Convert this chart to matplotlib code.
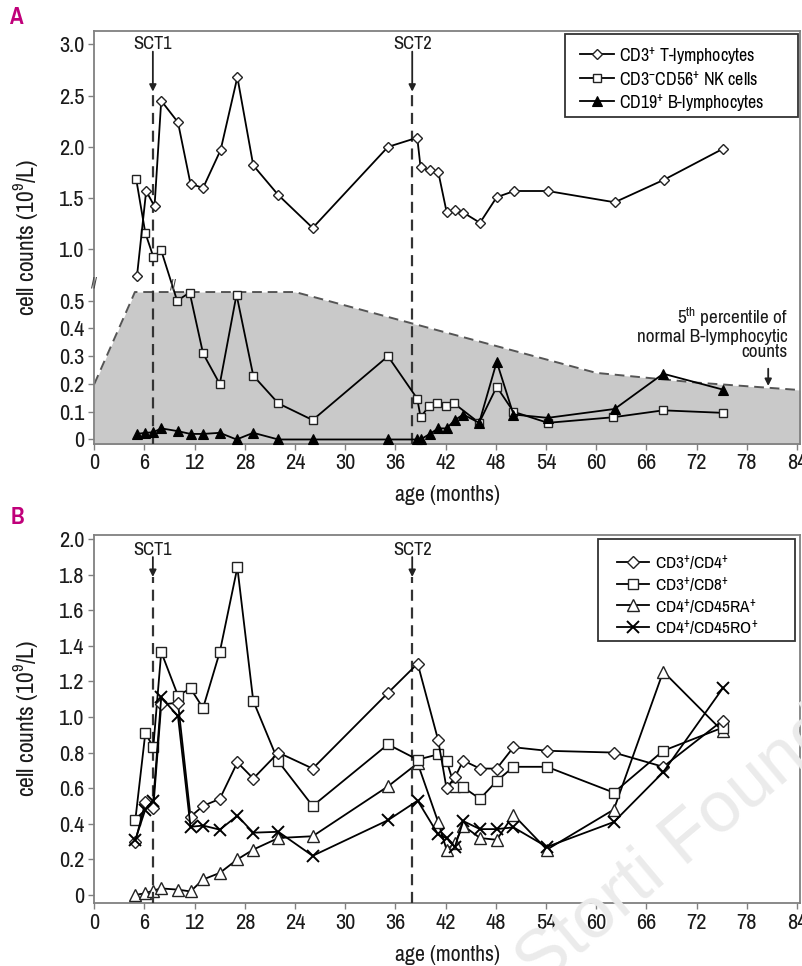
import numpy as np
import matplotlib
matplotlib.use("Agg")
import matplotlib.pyplot as plt
from matplotlib import transforms
from matplotlib.patches import Rectangle

FONT = 'Pragati Narrow'
plt.rcParams['font.family'] = [FONT, 'Archivo Narrow', 'Liberation Sans', 'DejaVu Sans']
plt.rcParams['mathtext.fontset'] = 'custom'
plt.rcParams['mathtext.rm'] = FONT
plt.rcParams['mathtext.it'] = FONT + ':italic'
plt.rcParams['mathtext.bf'] = FONT + ':bold'
plt.rcParams['mathtext.default'] = 'regular'
plt.rcParams['mathtext.fallback'] = 'stixsans'

# ---------------- data: panel A ----------------
months_t = [5.1, 6.2, 7.2, 8.0, 10.0, 11.5, 13.0, 15.1, 17.1, 19.0, 22.0, 26.1, 35.1,
            38.6, 39.0, 40.1, 41.1, 42.1, 43.1, 44.1, 46.1, 48.1, 50.2, 54.2, 62.2, 68.1, 75.1]
cd3_t = [0.74, 1.57, 1.42, 2.45, 2.24, 1.64, 1.60, 1.97, 2.68, 1.82, 1.53, 1.21, 2.00,
         2.09, 1.80, 1.77, 1.76, 1.37, 1.38, 1.36, 1.26, 1.51, 1.57, 1.57, 1.46, 1.68, 1.98]

months_nk = [5.0, 6.1, 7.05, 8.0, 9.9, 11.4, 13.0, 15.0, 17.0, 19.0, 22.0, 26.1, 35.1,
             38.6, 39.0, 40.0, 41.0, 42.0, 43.0, 46.0, 48.1, 50.1, 54.2, 62.0, 68.0, 75.1]
nk_cells = [1.69, 1.16, 0.93, 0.99, 0.50, 0.58, 0.31, 0.20, 0.56, 0.23, 0.13, 0.07, 0.30,
            0.147, 0.08, 0.12, 0.13, 0.12, 0.13, 0.06, 0.19, 0.10, 0.06, 0.08, 0.105, 0.096]

months_b = [5.1, 6.1, 7.05, 8.0, 10.0, 11.5, 13.0, 15.0, 17.0, 19.0, 22.0, 26.1, 35.1,
            38.6, 39.0, 40.1, 41.1, 42.1, 43.1, 44.1, 46.0, 48.1, 50.1, 54.2, 62.2, 68.0, 75.1]
cd19_b = [0.02, 0.024, 0.026, 0.04, 0.03, 0.02, 0.02, 0.024, 0.0, 0.024, 0.0, 0.0, 0.0,
          0.0, 0.0, 0.02, 0.04, 0.04, 0.07, 0.09, 0.06, 0.28, 0.09, 0.078, 0.11, 0.237, 0.18]

pct_months = [0, 4.4, 4.85, 24, 27.9, 60, 72, 84.4]
pct_values = [0.20, 0.50, 0.585, 0.585, 0.50, 0.24, 0.205, 0.178]

# ---------------- data: panel B ----------------
months_sub = [4.9, 6.1, 7.05, 8.0, 10.0, 11.5, 13.0, 15.0, 17.1, 19.0, 22.0, 26.1, 35.1,
              38.65, 41.1, 42.1, 43.1, 44.1, 46.1, 48.1, 50.1, 54.1, 62.1, 68.0, 75.1]
cd4 = [0.30, 0.52, 0.49, 1.07, 1.08, 0.44, 0.50, 0.54, 0.745, 0.654, 0.80, 0.71, 1.135,
       1.30, 0.87, 0.60, 0.66, 0.755, 0.71, 0.71, 0.83, 0.81, 0.80, 0.72, 0.98]
cd8 = [0.42, 0.91, 0.83, 1.365, 1.12, 1.16, 1.05, 1.365, 1.84, 1.09, 0.75, 0.50, 0.846,
       0.76, 0.79, 0.755, 0.605, 0.605, 0.54, 0.64, 0.72, 0.72, 0.575, 0.81, 0.94]
cd45ra = [0.0, 0.01, 0.025, 0.037, 0.03, 0.02, 0.087, 0.124, 0.20, 0.255, 0.32, 0.33, 0.61,
          0.74, 0.41, 0.255, 0.29, 0.39, 0.32, 0.31, 0.45, 0.255, 0.48, 1.255, 0.92]
cd45ro = [0.31, 0.48, 0.53, 1.11, 1.005, 0.383, 0.39, 0.367, 0.445, 0.35, 0.355, 0.22, 0.42,
          0.53, 0.34, 0.32, 0.27, 0.415, 0.37, 0.37, 0.38, 0.27, 0.41, 0.69, 1.16]

sct_months = [7, 38]
sct_labels = ['SCT1', 'SCT2']

x_ticks = list(range(0, 85, 6))
x_ticklabels = ['0', '6', '12', '28', '24', '30', '36', '42', '48', '54', '60', '66', '72', '78', '84']
yA_ticks = [0, 0.1, 0.2, 0.3, 0.4, 0.5, 1.0, 1.5, 2.0, 2.5, 3.0]
yA_ticklabels = ['0', '0.1', '0.2', '0.3', '0.4', '0.5', '1.0', '1.5', '2.0', '2.5', '3.0']
yB_ticks = [0, 0.2, 0.4, 0.6, 0.8, 1.0, 1.2, 1.4, 1.6, 1.8, 2.0]
yB_ticklabels = ['0', '0.2', '0.4', '0.6', '0.8', '1.0', '1.2', '1.4', '1.6', '1.8', '2.0']

# ---------------- figure ----------------
W, H = 803, 966
fig = plt.figure(figsize=(W / 100, H / 100), dpi=100)

def frame(l, t, r, b):
    return [l / W, 1 - b / H, (r - l) / W, (b - t) / H]

axA = fig.add_axes(frame(94.3, 31, 800, 443.5))
axB = fig.add_axes(frame(94.3, 535, 800, 903))

LOW, UP = 2.77, 1.024
def fwd(y):
    y = np.asarray(y, dtype=float)
    return np.where(y <= 0.5, y * LOW, 0.5 * LOW + (y - 0.5) * UP)
def inv(t):
    t = np.asarray(t, dtype=float)
    return np.where(t <= 0.5 * LOW, t / LOW, 0.5 + (t - 0.5 * LOW) / UP)

axA.set_yscale('function', functions=(fwd, inv))

spine_col = '#808080'
txt_col = '#1a1a1a'
for ax in (axA, axB):
    for s in ax.spines.values():
        s.set_color(spine_col)
        s.set_linewidth(1.3)
    ax.set_xlim(0, 84.35)
    ax.set_xticks(x_ticks)
    ax.set_xticklabels(x_ticklabels)
    ax.tick_params(direction='out', length=4, width=1, color=spine_col,
                   labelsize=17.5, pad=3, labelcolor=txt_col)
    ax.set_xlabel('age (months)', fontsize=17, color=txt_col)
    ax.set_ylabel('cell counts (10$^{9}$/L)', fontsize=18.5, color=txt_col)
    ax.yaxis.set_label_coords(-0.077, 0.5)
    ax.xaxis.label.set_verticalalignment('center')

axA.set_ylim(-0.0145, 3.13)
axA.set_yticks(yA_ticks)
axA.set_yticklabels(yA_ticklabels)
axA.yaxis.set_minor_locator(matplotlib.ticker.NullLocator())
axA.xaxis.set_label_coords(0.5, -0.1248)

axB.set_ylim(-0.045, 2.022)
axB.set_yticks(yB_ticks)
axB.set_yticklabels(yB_ticklabels)
axB.xaxis.set_label_coords(0.5, -0.1413)

# ---- panel A ----
axA.fill_between(pct_months, pct_values, -0.05, color='#c9c9c9', lw=0, zorder=1)
axA.plot(pct_months, pct_values, color='#555555', lw=1.4, dashes=(5, 3), zorder=2)

lw = 1.3
axA.plot(months_t, cd3_t, color='k', lw=lw, marker='D', ms=5.6, mfc='white', mec='#222',
         mew=1.0, zorder=5, label='CD3$^{+}$ T-lymphocytes')
axA.plot(months_nk, nk_cells, color='k', lw=lw, marker='s', ms=6.3, mfc='white', mec='#222',
         mew=1.0, zorder=4, label='CD3$^{-}$CD56$^{+}$ NK cells')
axA.plot(months_b, cd19_b, color='k', lw=lw, marker='^', ms=7.5, mfc='k', mec='k',
         mew=0.8, zorder=6, clip_on=False, label='CD19$^{+}$ B-lymphocytes')

# ---- panel B ----
axB.plot(months_sub, cd4, color='k', lw=lw, marker='D', ms=5.8, mfc='white', mec='#222',
         mew=1.0, zorder=5, label='CD3$^{+}$/CD4$^{+}$')
axB.plot(months_sub, cd8, color='k', lw=lw, marker='s', ms=6.5, mfc='white', mec='#222',
         mew=1.0, zorder=4, label='CD3$^{+}$/CD8$^{+}$')
axB.plot(months_sub, cd45ra, color='k', lw=lw, marker='^', ms=8, mfc='white', mec='#222',
         mew=1.0, zorder=3, clip_on=False, label='CD4$^{+}$/CD45RA$^{+}$')
axB.plot(months_sub, cd45ro, color='k', lw=lw, marker='x', ms=8, mec='k',
         mew=1.4, zorder=6, label='CD4$^{+}$/CD45RO$^{+}$')

# ---- SCT markers ----
def sct(ax, y_text, y_start, y_tip):
    tr = transforms.blended_transform_factory(ax.transData, ax.transAxes)
    for m, lab in zip(sct_months, sct_labels):
        ax.plot([m, m], [0, y_tip], transform=tr, color='#333333', lw=1.6,
                dashes=(5, 3), zorder=3)
        ax.annotate('', xy=(m, y_tip), xytext=(m, y_start), xycoords=tr, textcoords=tr,
                    arrowprops=dict(arrowstyle='-|>', color='#222', lw=1.3,
                                    mutation_scale=10, shrinkA=0, shrinkB=0))
        ax.text(m, y_text, lab, transform=tr, ha='center', va='center', fontsize=14.5,
                color=txt_col)

sct(axA, 0.9685, 0.950, 0.853)
sct(axB, 0.959, 0.940, 0.886)

# ---- 5th percentile annotation ----
axA.text(82.9, 0.383, '5$^{th}$ percentile of\nnormal B-lymphocytic\ncounts', ha='right',
         va='center', multialignment='right', fontsize=15, linespacing=0.95, color=txt_col)
axA.annotate('', xy=(80.55, 0.193), xytext=(80.55, 0.255),
             arrowprops=dict(arrowstyle='-|>', color='#222', lw=1.3, mutation_scale=10,
                             shrinkA=0, shrinkB=0))

# ---- break marks ----
axA.text(0, 0.67, '//', ha='center', va='center', fontsize=12, color='#444',
         clip_on=False, zorder=7)
axA.text(9.45, 0.65, '//', ha='center', va='center', fontsize=12, color='#444',
         zorder=7)

# ---- legends (frameless, with a separate box) ----
legA = axA.legend(loc='upper left', bbox_to_anchor=(0.688, 0.967), fontsize=14,
                  frameon=False, handlelength=1.75, handletextpad=0.25,
                  labelspacing=0.22, borderpad=0, borderaxespad=0)
legA.set_zorder(10)
axA.add_patch(Rectangle((0.667, 0.7915), 0.330, 0.2012, transform=axA.transAxes,
                        facecolor='white', edgecolor='#333333', lw=1.3, zorder=9))
legB = axB.legend(loc='upper left', bbox_to_anchor=(0.740, 0.950), fontsize=13.5,
                  frameon=False, handlelength=1.75, handletextpad=0.3,
                  labelspacing=0.14, borderpad=0, borderaxespad=0)
legB.set_zorder(10)
axB.add_patch(Rectangle((0.7138, 0.712), 0.2792, 0.2772, transform=axB.transAxes,
                        facecolor='white', edgecolor='#333333', lw=1.3, zorder=9))

# ---- panel letters ----
fig.text(17 / W, 1 - 18 / H, 'A', color='#c0007a', fontsize=18, fontweight='bold',
         ha='center', va='center')
fig.text(17 / W, 1 - 518 / H, 'B', color='#c0007a', fontsize=18, fontweight='bold',
         ha='center', va='center')

# ---- watermark ----
fig.text(505 / W, 1 - 985 / H, 'Storti Foundation', color='#ebebeb', fontsize=52,
         rotation=40, ha='left', va='baseline', zorder=0, family='Liberation Sans')

fig.savefig('out.png', dpi=100)
